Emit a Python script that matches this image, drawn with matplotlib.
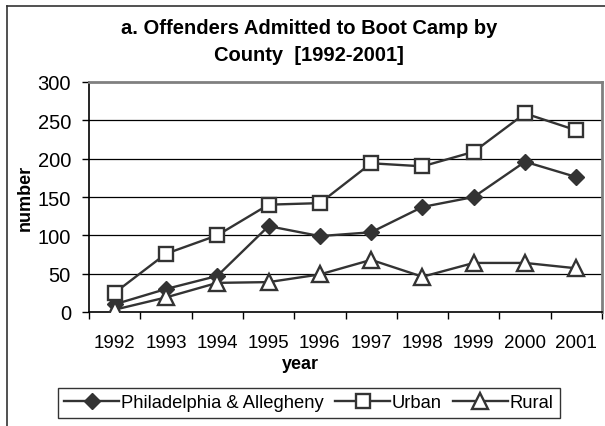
import matplotlib
matplotlib.use("Agg")
import matplotlib.pyplot as plt
from matplotlib.lines import Line2D

plt.rcParams['font.family'] = ['Liberation Sans', 'DejaVu Sans']

years = ["1992", "1993", "1994", "1995", "1996", "1997", "1998", "1999", "2000", "2001"]
phil_allegheny = [10, 30, 47, 112, 99, 104, 137, 150, 196, 176]
urban = [25, 76, 100, 140, 142, 194, 190, 209, 259, 237]
rural = [3, 19, 38, 39, 49, 68, 46, 64, 64, 57]

W, H = 605, 427
fig = plt.figure(figsize=(W / 100, H / 100), dpi=100)

# plot area in pixel terms
left, right, top, bottom = 89, 602, 83, 313
ax = fig.add_axes([left / W, 1 - bottom / H, (right - left) / W, (bottom - top) / H])

x = list(range(len(years)))
ink = "#333333"
ax.plot(x, phil_allegheny, color=ink, lw=1.7, marker="D", ms=8.5,
        mfc=ink, mec=ink, label="Philadelphia & Allegheny", zorder=3)
ax.plot(x, urban, color=ink, lw=1.7, marker="s", ms=10.5,
        mfc="white", mec=ink, mew=1.7, label="Urban", zorder=3)
ax.plot(x, rural, color=ink, lw=1.7, marker="^", ms=11,
        mfc="white", mec=ink, mew=1.7, label="Rural", zorder=3)

ax.set_xlim(-0.5, len(years) - 0.5)
ax.set_ylim(0, 300)
ax.set_yticks(range(0, 301, 50))
ax.set_xticks(x)
ax.set_xticklabels(years)
ax.set_xticks([i - 0.5 for i in range(len(years) + 1)], minor=True)
ax.tick_params(axis="x", which="major", length=0, pad=16, labelsize=13.5)
ax.tick_params(axis="x", which="minor", length=5, width=1, direction="out")
ax.tick_params(axis="y", length=5, width=1, direction="out", pad=8, labelsize=14.5)

for y in range(50, 300, 50):
    ax.axhline(y, color="black", lw=0.9, zorder=1)

ax.spines["left"].set_color("black")
ax.spines["bottom"].set_color("black")
ax.spines["left"].set_linewidth(1.2)
ax.spines["bottom"].set_linewidth(1.2)
for s in ("top", "right"):
    ax.spines[s].set_color("#808080")
    ax.spines[s].set_linewidth(2)

# titles and labels
fig.text(309 / W, 1 - 34.5 / H, "a. Offenders Admitted to Boot Camp by",
         ha="center", va="baseline", fontsize=14.5, fontweight="bold")
fig.text(309 / W, 1 - 61 / H, "County  [1992-2001]",
         ha="center", va="baseline", fontsize=14.5, fontweight="bold")
fig.text(300 / W, 1 - 369 / H, "year", ha="center", va="baseline",
         fontsize=13, fontweight="bold")
fig.text(25 / W, 1 - 198 / H, "number", ha="center", va="center",
         rotation=90, fontsize=13, fontweight="bold")

leg = fig.legend(loc="center", bbox_to_anchor=(309 / W, 1 - 404 / H), ncol=3,
                 frameon=True, fancybox=False, edgecolor="black", fontsize=13.2,
                 handlelength=3.0, handletextpad=0.1, columnspacing=0.6,
                 borderpad=0.35, borderaxespad=0)
leg.get_frame().set_linewidth(1)

# chart area border
fig.add_artist(Line2D([7 / W, 7 / W], [0, 1 - 7 / H], color="#333333", lw=1.2,
                      transform=fig.transFigure))
fig.add_artist(Line2D([7 / W, 1], [1 - 7 / H, 1 - 7 / H], color="#333333", lw=1.2,
                      transform=fig.transFigure))

fig.savefig("out.png", dpi=100)
